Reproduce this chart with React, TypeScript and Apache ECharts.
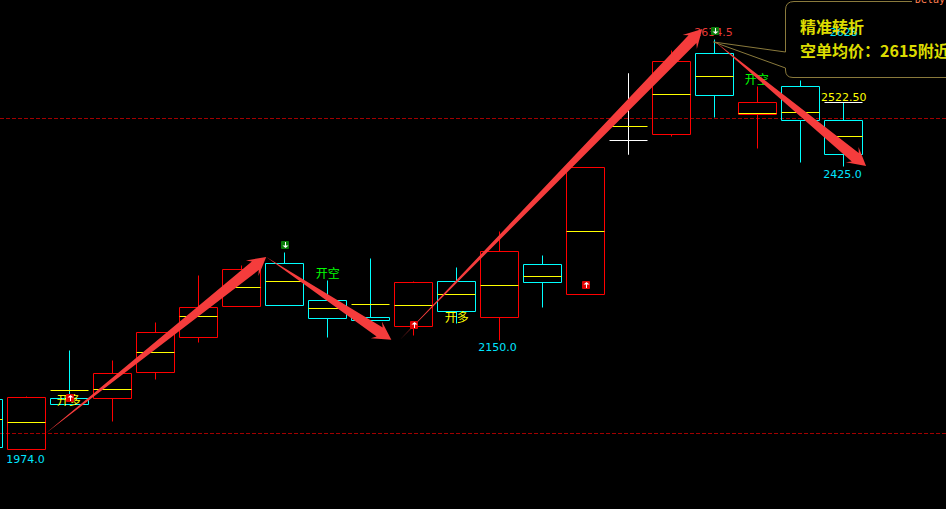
import React, { useEffect, useRef } from "react";
import * as echarts from "echarts";

const W = 946;
const H = 509;

// One entry per session, left to right. "up" = red, "down" = cyan, "flat" = white.
const kinds = ["down","up","down","up","up","up","up","down","down","down","up","down","up","down","up","flat","up","down","up","down","down"];
const opens = [2054,1975,2054.2,2054.2,2095.4,2150.8,2199.9,2268,2209.4,2184,2168.2,2241,2184,2266.4,2218.9,2464.3,2473.8,2600.5,2504.4,2549.8,2494.4];
const closes = [1978,2055.8,2044.7,2093.8,2158.7,2198.3,2260,2203,2182.4,2177.7,2237.9,2193.5,2287,2237.9,2420,2464.3,2589.4,2534.5,2522.9,2494.4,2442.1];
const highs = [2054,2058.9,2130.2,2114.4,2176.1,2249,2264.8,2285.4,2242.6,2275.9,2241,2263.2,2320.2,2282.2,2420,2570.4,2606.8,2624.2,2549.8,2559.3,2522.9];
const lows = [1978,1971.9,2044.7,2017.8,2084.3,2142.9,2199.9,2203,2150.8,2177.7,2155.5,2173,2147.6,2198.3,2218.9,2440.6,2470.6,2500.7,2451.6,2427.9,2423.1];
const mids = [2022.5,2016.2,2068.4,2070,2128.6,2185.6,2231.5,2241,2196.7,2204.6,2201.5,2218.9,2234.7,2247.4,2320.2,2484.9,2535.6,2564.9,2505.5,2508.6,2470.6];

const refLevels = [2498, 2000];

// Trend arrows: [from index, from price, to index, to price]
const arrows = [
  [1.43, 1999, 6.57, 2279],
  [6.57, 2279, 9.48, 2148],
  [9.68, 2148, 16.71, 2640],
  [16.99, 2621, 20.52, 2423],
];

// Signal markers: [index, price, kind]
const signals = [
  [2, 2056, "buy"],
  [7, 2298, "sell"],
  [10, 2171, "buy"],
  [14, 2234, "buy"],
  [17, 2637, "sell"],
];

// Labels: [text, index, price, colour, size]
const labels = [
  ["1974.0", 0.97, 1959, "#00e5ff", 11],
  ["2150.0", 11.95, 2135, "#00e5ff", 11],
  ["2425.0", 19.97, 2410, "#00e5ff", 11],
  ["2522.50", 20, 2532, "#ffff00", 11],
  ["2634.5", 16.97, 2635, "#e53935", 11],
  ["2628", 20, 2634, "#00e5ff", 11],
  ["开多", 1.98, 2051, "#ffff00", 12],
  ["开空", 8, 2252, "#00ff00", 12],
  ["开多", 11, 2182, "#ffff00", 12],
  ["开空", 17.98, 2559, "#00ff00", 12],
];

const tickLevel = [[20, 2522.9]];

const calloutTitle = "精准转折";
const calloutLine = "空单均价：2615附近";
const delayText = "Delay";

const COLORS: Record<string, string> = { up: "#ff0000", down: "#00ffff", flat: "#ffffff" };
const crisp = (v: number) => Math.floor(v) + 0.5;
const ARROW_RED = "#f53c3c";
const CALLOUT = "M 912 1.5 L 794 1.5 Q 785.5 1.5 785.5 10 L 785.5 52 L 713.5 42 L 785.5 68 L 785.5 70 Q 785.5 77.5 793 77.5 L 946 77.5";

echarts.graphic.registerShape("callout", echarts.graphic.extendPath(CALLOUT, {}));

function renderCandle(params: any, api: any) {
  const i = api.value(0);
  const kind = kinds[params.dataIndex];
  const color = COLORS[kind];
  const x = crisp(api.coord([i, 0])[0]);
  const half = Math.round(api.size([1, 0])[0] * 0.45);
  const yO = crisp(api.coord([i, api.value(1)])[1]);
  const yC = crisp(api.coord([i, api.value(2)])[1]);
  const yH = crisp(api.coord([i, api.value(3)])[1]);
  const yL = crisp(api.coord([i, api.value(4)])[1]);
  const yM = crisp(api.coord([i, api.value(5)])[1]);
  const top = Math.min(yO, yC);
  const bot = Math.max(yO, yC);
  const line = (x1: number, y1: number, x2: number, y2: number, stroke: string) => ({
    type: "line",
    shape: { x1, y1, x2, y2 },
    style: { stroke, lineWidth: 1, fill: "none" },
  });
  const children: any[] = [];
  if (yH < top) children.push(line(x, yH, x, top, color));
  if (yL > bot) children.push(line(x, bot, x, yL, color));
  if (bot > top) {
    children.push({
      type: "rect",
      shape: { x: x - half, y: top, width: half * 2, height: bot - top },
      style: { stroke: color, lineWidth: 1, fill: "none" },
    });
  } else {
    children.push(line(x, yH, x, yL, color));
    children.push(line(x - half, top, x + half, top, color));
  }
  children.push(line(x - half, yM, x + half, yM, "#ffff00"));
  return { type: "group", children };
}

function renderArrow(_: any, api: any) {
  const a = api.coord([api.value(0), api.value(1)]);
  const b = api.coord([api.value(2), api.value(3)]);
  const dx = b[0] - a[0];
  const dy = b[1] - a[1];
  const len = Math.hypot(dx, dy);
  const ux = dx / len;
  const uy = dy / len;
  const nx = -uy;
  const ny = ux;
  const headLen = 18;
  const at = (back: number, off: number) => [b[0] - ux * back + nx * off, b[1] - uy * back + ny * off];
  return {
    type: "polygon",
    shape: {
      points: [
        a,
        at(headLen - 4, 5.5),
        at(headLen, 10),
        b,
        at(headLen, -10),
        at(headLen - 4, -5.5),
      ],
    },
    style: { fill: ARROW_RED, stroke: "none" },
  };
}

function renderSignal(params: any, api: any) {
  const p = api.coord([api.value(0), api.value(1)]);
  const buy = signals[params.dataIndex][2] === "buy";
  const cx = Math.round(p[0]);
  const cy = Math.round(p[1]);
  const dir = buy ? -1 : 1;
  return {
    type: "group",
    children: [
      { type: "rect", shape: { x: cx - 4, y: cy - 4, width: 8, height: 8, r: 1 }, style: { fill: buy ? "#e00000" : "#0a7a0a" } },
      {
        type: "polygon",
        shape: { points: [[cx + 0.5, cy + 3 * dir], [cx - 2.5, cy + 0.5 * dir], [cx + 3.5, cy + 0.5 * dir]] },
        style: { fill: "#ffffff" },
      },
      { type: "line", shape: { x1: cx + 0.5, y1: cy - 3 * dir, x2: cx + 0.5, y2: cy + 1 * dir }, style: { stroke: "#ffffff", lineWidth: 1 } },
    ],
  };
}

export default function App() {
  const ref = useRef<HTMLDivElement>(null);
  useEffect(() => {
    document.body.style.margin = "0";
    document.body.style.background = "#000";
    const chart = echarts.init(ref.current!, null, { renderer: "svg" });
    const candleData = opens.map((o, i) => [i, o, closes[i], highs[i], lows[i], mids[i]]);
    chart.setOption({
      animation: false,
      backgroundColor: "#000000",
      grid: { left: 0, top: 0, right: 0, bottom: 0 },
      xAxis: { type: "value", min: 0.379, max: 22.379, show: false },
      yAxis: { type: "value", min: 1880, max: 2686, show: false },
      series: [
        {
          type: "custom",
          name: "levels",
          coordinateSystem: "cartesian2d",
          data: refLevels.map((v) => [1, v]),
          z: 1,
          silent: true,
          renderItem: (_: any, api: any) => {
            const y = crisp(api.coord([1, api.value(1)])[1]);
            return {
              type: "line",
              shape: { x1: 0, y1: y, x2: W, y2: y },
              style: { stroke: "#a00000", lineWidth: 1, lineDash: [4, 2], fill: "none" },
            };
          },
          clip: false,
        },
        {
          type: "custom",
          name: "candles",
          coordinateSystem: "cartesian2d",
          data: candleData,
          renderItem: renderCandle,
          z: 2,
          silent: true,
          clip: false,
        },
        {
          type: "custom",
          name: "tick",
          data: tickLevel,
          z: 3,
          silent: true,
          renderItem: (_: any, api: any) => {
            const c = api.coord([api.value(0), api.value(1)]);
            const half = Math.round(api.size([1, 0])[0] * 0.45);
            const x = crisp(c[0]);
            const y = crisp(c[1]);
            return {
              type: "line",
              shape: { x1: x - half, y1: y, x2: x + half, y2: y },
              style: { stroke: "#ffffff", lineWidth: 1, fill: "none" },
            };
          },
        },
        {
          type: "custom",
          name: "labels",
          data: labels.map((l) => [l[1], l[2]]),
          z: 4,
          silent: true,
          renderItem: (params: any, api: any) => {
            const c = api.coord([api.value(0), api.value(1)]);
            const l = labels[params.dataIndex];
            return {
              type: "text",
              x: c[0],
              y: c[1],
              style: {
                text: l[0],
                fill: l[3],
                font: `${l[4]}px 'DejaVu Sans', 'Noto Sans CJK SC', sans-serif`,
                align: "center",
                verticalAlign: "middle",
              },
            };
          },
        },
        {
          type: "custom",
          name: "arrows",
          data: arrows,
          z: 6,
          silent: true,
          renderItem: renderArrow,
        },
        {
          type: "custom",
          name: "signals",
          data: signals.map((s) => [s[0], s[1]]),
          z: 7,
          silent: true,
          renderItem: renderSignal,
        },
      ],
      graphic: [
        {
          type: "callout",
          x: 0,
          y: 0,
          z: 5,
          silent: true,
          style: { fill: "none", stroke: "#8a7a3c", lineWidth: 1 },
        },
        {
          type: "text",
          x: 800,
          y: 26,
          z: 8,
          silent: true,
          style: { text: calloutTitle, fill: "#dcdc00", font: "bold 16px 'Noto Sans CJK SC', sans-serif", verticalAlign: "middle" },
        },
        {
          type: "text",
          x: 800,
          y: 50,
          z: 8,
          silent: true,
          style: { text: calloutLine, fill: "#dcdc00", font: "bold 16px 'Noto Sans CJK SC', sans-serif", verticalAlign: "middle" },
        },
        {
          type: "text",
          x: 915,
          y: -1,
          z: 8,
          silent: true,
          style: { text: delayText, fill: "#ff7f50", font: "10px 'DejaVu Sans Mono', monospace", verticalAlign: "middle" },
        },
      ],
    });
    return () => chart.dispose();
  }, []);
  return <div ref={ref} style={{ width: W, height: H }} />;
}
